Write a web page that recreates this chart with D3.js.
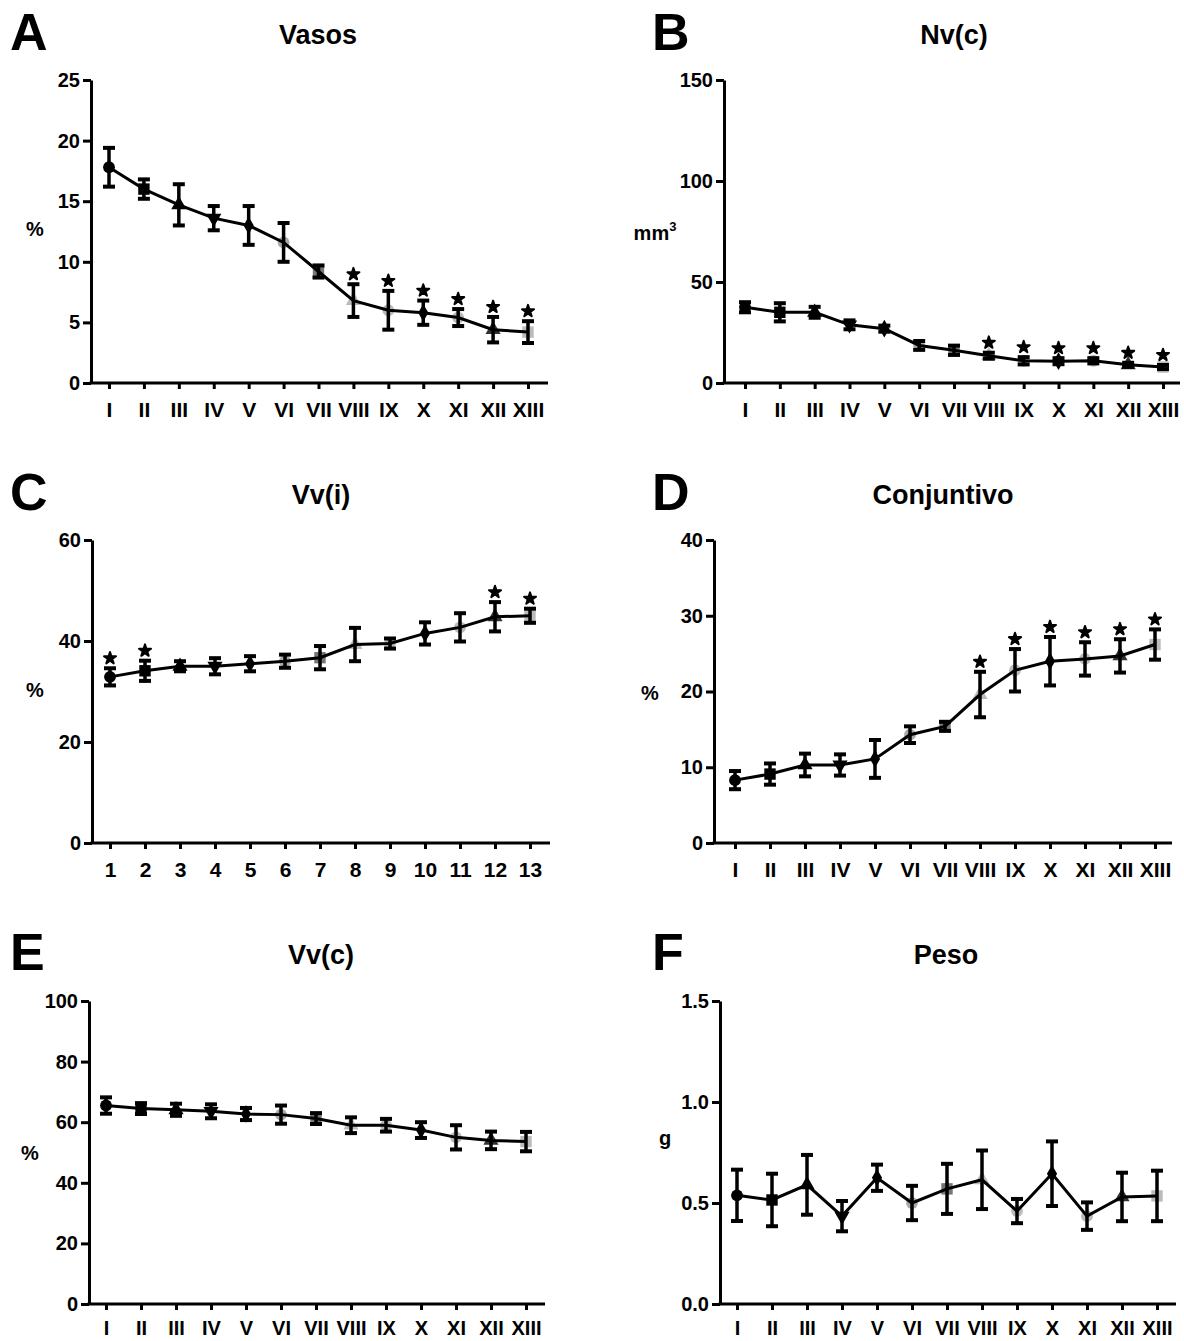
<!DOCTYPE html>
<html>
<head>
<meta charset="utf-8">
<script src="https://cdn.jsdelivr.net/npm/d3@7"></script>
<style>
  body { margin: 0; background: #fff; }
  svg { display: block; font-family: "Liberation Sans", Arial, sans-serif; }
</style>
</head>
<body>
<svg id="fig" width="1184" height="1341"></svg>
<script>
'use strict';

//* Data (mean, error)

const romanLabels = ['I', 'II', 'III', 'IV', 'V', 'VI', 'VII', 'VIII', 'IX', 'X', 'XI', 'XII', 'XIII'];
const numberLabels = ['1', '2', '3', '4', '5', '6', '7', '8', '9', '10', '11', '12', '13'];

const vasosMean = [17.8, 16.0, 14.7, 13.6, 13.0, 11.6, 9.2, 6.8, 6.0, 5.8, 5.4, 4.4, 4.2];
const vasosErr = [1.6, 0.8, 1.7, 1.0, 1.6, 1.6, 0.5, 1.35, 1.6, 1.0, 0.7, 1.05, 0.9];
const vasosStars = ['VIII', 'IX', 'X', 'XI', 'XII', 'XIII'];

const nvcMean = [37.5, 35.0, 35.0, 28.8, 26.9, 18.6, 16.2, 13.5, 11.0, 10.8, 11.0, 9.0, 7.9];
const nvcErr = [2.5, 4.5, 2.7, 2.2, 1.5, 2.2, 2.3, 1.5, 1.8, 1.5, 1.3, 1.0, 1.0];
const nvcStars = ['VIII', 'IX', 'X', 'XI', 'XII', 'XIII'];

const vviMean = [32.9, 34.1, 35.0, 35.0, 35.5, 36.0, 36.7, 39.3, 39.5, 41.5, 42.7, 44.8, 45.0];
const vviErr = [1.7, 2.0, 1.0, 1.6, 1.5, 1.3, 2.3, 3.3, 1.0, 2.2, 2.8, 2.9, 1.4];
const vviStars = ['1', '2', '12', '13'];

const conjMean = [8.3, 9.1, 10.3, 10.3, 11.1, 14.3, 15.4, 19.6, 22.8, 24.0, 24.3, 24.7, 26.2];
const conjErr = [1.2, 1.4, 1.5, 1.4, 2.5, 1.1, 0.6, 3.0, 2.8, 3.2, 2.2, 2.2, 2.0];
const conjStars = ['VIII', 'IX', 'X', 'XI', 'XII', 'XIII'];

const vvcMean = [65.5, 64.5, 64.1, 63.6, 62.7, 62.5, 61.2, 59.0, 59.0, 57.4, 55.0, 54.0, 53.6];
const vvcErr = [2.7, 1.8, 2.0, 2.3, 2.0, 3.0, 1.8, 2.6, 2.1, 2.6, 4.0, 2.9, 3.2];

const pesoMean = [0.538, 0.515, 0.59, 0.435, 0.625, 0.5, 0.57, 0.615, 0.46, 0.645, 0.435, 0.53, 0.535];
const pesoErr = [0.127, 0.13, 0.148, 0.075, 0.065, 0.085, 0.124, 0.145, 0.06, 0.16, 0.068, 0.12, 0.125];

const vasosTicks = [0, 5, 10, 15, 20, 25];
const nvcTicks = [0, 50, 100, 150];
const vviTicks = [0, 20, 40, 60];
const conjTicks = [0, 10, 20, 30, 40];
const vvcTicks = [0, 20, 40, 60, 80, 100];
const pesoTicks = [0, 0.5, 1.0, 1.5];

// marker per group (Prism style)
const markerShapes = ['circle', 'square', 'triangle', 'triangleDown', 'diamond', 'circle', 'square', 'triangle', 'circle', 'diamond', 'circle', 'triangle', 'square'];
const markerFills = ['#000', '#000', '#000', '#000', '#000', '#aaa', '#777', '#bbb', '#bbb', '#000', '#bbb', '#333', '#bbb'];

/* Panels */
const panels = [
    { letter: 'A', title: 'Vasos', unit: '%', labels: romanLabels, mean: vasosMean, err: vasosErr, stars: vasosStars, ticks: vasosTicks, fmt: d3.format('d'),
      ax: 91, ex: 548, x0: 109, x1: 528, top: 80, bottom: 383, lx: 10, tx: 318, ux: 35, uy: 236, fs: 21, pad: 13 },
    { letter: 'B', title: 'Nv(c)', unit: 'mm', sup: '3', labels: romanLabels, mean: nvcMean, err: nvcErr, stars: nvcStars, ticks: nvcTicks, fmt: d3.format('d'),
      ax: 724, ex: 1180, x0: 745, x1: 1163, top: 80, bottom: 383, lx: 652, tx: 954, ux: 655, uy: 240, fs: 21, pad: 13 },
    { letter: 'C', title: 'Vv(i)', unit: '%', labels: numberLabels, mean: vviMean, err: vviErr, stars: vviStars, ticks: vviTicks, fmt: d3.format('d'),
      ax: 92, ex: 550, x0: 110, x1: 530, top: 540, bottom: 843, lx: 10, tx: 321, ux: 35, uy: 697, fs: 21, pad: 13 },
    { letter: 'D', title: 'Conjuntivo', unit: '%', labels: romanLabels, mean: conjMean, err: conjErr, stars: conjStars, ticks: conjTicks, fmt: d3.format('d'),
      ax: 714, ex: 1172, x0: 735, x1: 1155, top: 540, bottom: 843, lx: 652, tx: 943, ux: 650, uy: 700, fs: 21, pad: 13 },
    { letter: 'E', title: 'Vv(c)', unit: '%', labels: romanLabels, mean: vvcMean, err: vvcErr, stars: [], ticks: vvcTicks, fmt: d3.format('d'),
      ax: 89, ex: 545, x0: 106, x1: 526, top: 1001, bottom: 1304, lx: 10, tx: 321, ux: 30, uy: 1160, fs: 20, pad: 11 },
    { letter: 'F', title: 'Peso', unit: 'g', labels: romanLabels, mean: pesoMean, err: pesoErr, stars: [], ticks: pesoTicks, fmt: d3.format('.1f'),
      ax: 720, ex: 1176, x0: 737, x1: 1157, top: 1001, bottom: 1304, lx: 652, tx: 946, ux: 665, uy: 1145, fs: 20, pad: 11 }
];
const rowBase = { 80: 0, 540: 460, 1001: 920 };

const svg = d3.select('#fig');

function symbolFor(shape) {
    if (shape === 'square') return d3.symbol(d3.symbolSquare, 130)();
    if (shape === 'triangle' || shape === 'triangleDown') return d3.symbol(d3.symbolTriangle, 100)();
    if (shape === 'diamond') return d3.symbol(d3.symbolDiamond, 90)();
    return d3.symbol(d3.symbolCircle, 110)();
}

panels.forEach(function(p) {
    const base = rowBase[p.top];
    const g = svg.append('g');
    const yMax = p.ticks[p.ticks.length - 1];

    const x = d3.scalePoint().domain(p.labels).range([p.x0, p.x1]);
    const y = d3.scaleLinear().domain([0, yMax]).range([p.bottom, p.top]);

    const rows = p.labels.map((lab, i) => ({ lab, i, mean: p.mean[i], err: p.err[i] }));

    // panel letter + title
    g.append('text').attr('x', p.lx).attr('y', base + 50)
        .attr('font-size', 52).attr('font-weight', 'bold').text(p.letter);
    g.append('text').attr('x', p.tx).attr('y', base + 44).attr('text-anchor', 'middle')
        .attr('font-size', 27).attr('font-weight', 'bold').text(p.title);

    // unit
    const u = g.append('text').attr('x', p.ux).attr('y', p.uy).attr('text-anchor', 'middle')
        .attr('font-size', 20).attr('font-weight', 'bold').text(p.unit);
    if (p.sup) u.append('tspan').attr('font-size', 13).attr('dy', -9).text(p.sup);

    // y axis
    const ya = g.append('g').attr('transform', `translate(${p.ax},0)`)
        .call(d3.axisLeft(y).tickValues(p.ticks).tickFormat(p.fmt).tickSize(8).tickSizeOuter(0).tickPadding(3));
    ya.select('.domain').attr('stroke-width', 3).attr('stroke', '#000');
    ya.selectAll('.tick line').attr('stroke-width', 3);
    ya.selectAll('.tick text').attr('font-size', 20).attr('font-weight', 'bold')
        .attr('font-family', '"Liberation Sans", Arial, sans-serif').attr('fill', '#000');

    // x axis
    const xa = g.append('g').attr('transform', `translate(0,${p.bottom})`)
        .call(d3.axisBottom(x).tickSize(6).tickSizeOuter(0).tickPadding(p.pad));
    xa.select('.domain').remove();
    xa.selectAll('.tick line').attr('stroke-width', 3);
    xa.selectAll('.tick text').attr('font-size', p.fs).attr('font-weight', 'bold')
        .attr('font-family', '"Liberation Sans", Arial, sans-serif').attr('fill', '#000');
    g.append('line').attr('x1', p.ax - 1.5).attr('x2', p.ex).attr('y1', p.bottom).attr('y2', p.bottom)
        .attr('stroke', '#000').attr('stroke-width', 3);

    // markers
    g.selectAll('.marker').data(rows).enter().append('path')
        .attr('class', 'marker')
        .attr('d', d => symbolFor(markerShapes[d.i]))
        .attr('transform', d => `translate(${x(d.lab)},${y(d.mean)})` + (markerShapes[d.i] === 'triangleDown' ? ' rotate(180)' : ''))
        .attr('fill', d => markerFills[d.i]);

    // connecting line
    g.append('path').datum(rows)
        .attr('d', d3.line().x(d => x(d.lab)).y(d => y(d.mean)))
        .attr('fill', 'none').attr('stroke', '#000').attr('stroke-width', 3);

    // error bars
    const eb = g.selectAll('.eb').data(rows).enter().append('g').attr('class', 'eb');
    eb.append('line')
        .attr('x1', d => x(d.lab)).attr('x2', d => x(d.lab))
        .attr('y1', d => y(d.mean + d.err)).attr('y2', d => y(d.mean - d.err))
        .attr('stroke', '#000').attr('stroke-width', 3.5);
    [1, -1].forEach(function(s) {
        eb.append('line')
            .attr('x1', d => x(d.lab) - 6).attr('x2', d => x(d.lab) + 6)
            .attr('y1', d => y(d.mean + s * d.err)).attr('y2', d => y(d.mean + s * d.err))
            .attr('stroke', '#000').attr('stroke-width', 4);
    });

    // significance stars
    g.selectAll('.star').data(rows.filter(d => p.stars.includes(d.lab))).enter().append('path')
        .attr('class', 'star')
        .attr('d', d3.symbol(d3.symbolStar, 45)())
        .attr('transform', d => `translate(${x(d.lab)},${y(d.mean + d.err) - 10})`)
        .attr('fill', '#000').attr('stroke', '#000').attr('stroke-width', 2).attr('stroke-linejoin', 'round');
});
</script>
</body>
</html>
